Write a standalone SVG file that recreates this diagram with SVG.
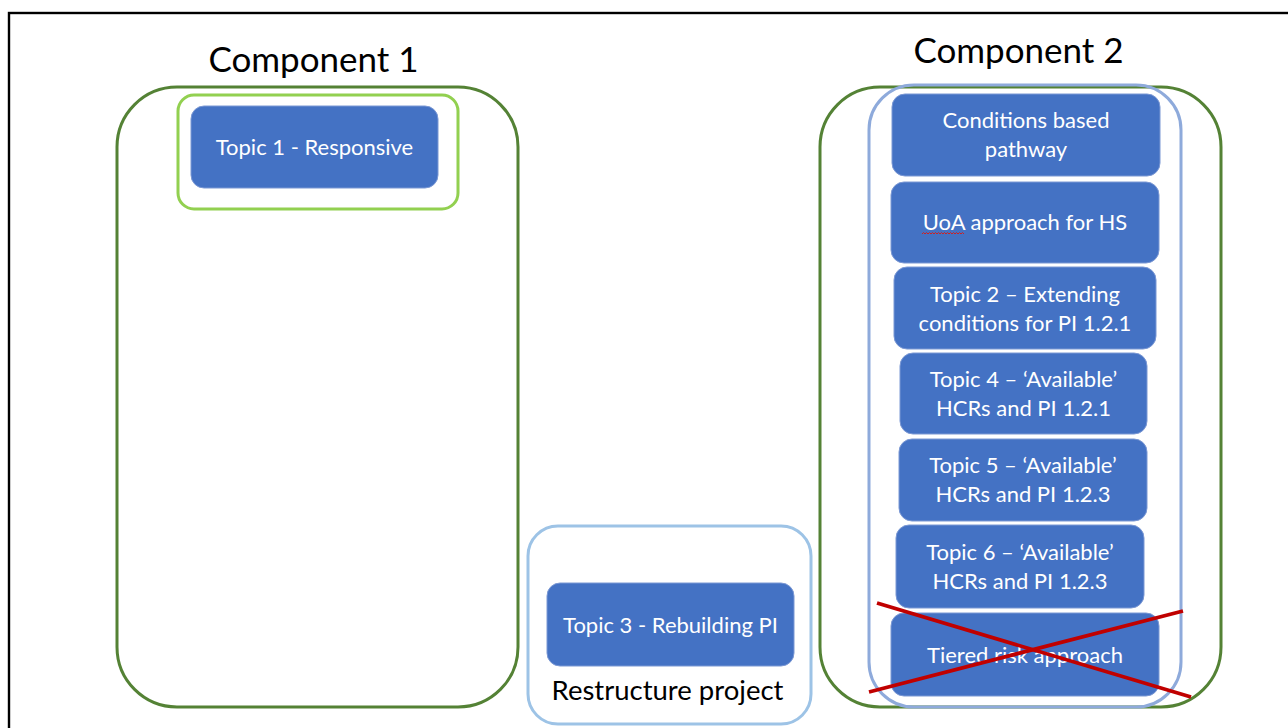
<svg xmlns="http://www.w3.org/2000/svg" width="1288" height="728" viewBox="0 0 1288 728">
  <style>
    .frame { fill: none; stroke: #000000; stroke-width: 2.4; }
    .component { fill: #ffffff; stroke: #548235; stroke-width: 3; }
    .scope-green { fill: none; stroke: #92d050; stroke-width: 3; }
    .scope-blue { fill: none; stroke: #8eaadb; stroke-width: 3; }
    .scope-sky { fill: #ffffff; stroke: #9dc3e6; stroke-width: 3; }
    .topic { fill: #4472c4; stroke: #7b98d4; stroke-width: 1; }
    .topic-text { font-family: Lato, "Liberation Sans", sans-serif; font-size: 22px; fill: #ffffff; text-anchor: middle; }
    .title { font-family: Lato, "Liberation Sans", sans-serif; font-size: 35px; fill: #000000; text-anchor: middle; }
    .caption { font-family: Lato, "Liberation Sans", sans-serif; font-size: 27.5px; fill: #000000; text-anchor: middle; }
    .strike { stroke: #c00000; stroke-width: 3.8; stroke-linecap: butt; }
    .squiggle { fill: none; stroke: #d02020; stroke-width: 1; }
  </style>

  <rect width="1288" height="728" fill="#ffffff"/>
  <!-- slide frame, runs off the right and bottom edges -->
  <rect class="frame" x="9" y="13" width="1300" height="740"/>

  <!-- Component 1 -->
  <g id="component-1">
    <text class="title" x="313.5" y="72">Component 1</text>
    <rect class="component" x="117" y="87" width="401" height="620" rx="60" ry="60"/>
    <rect class="scope-green" x="178" y="95" width="280" height="114" rx="16" ry="16"/>
  </g>
  <g id="topic-1">
    <rect class="topic" x="191" y="106" width="247" height="82" rx="13" ry="13"/>
    <text class="topic-text" x="314.5" y="155">Topic 1 - Responsive</text>
  </g>

  <!-- Restructure project -->
  <g id="restructure-project">
    <rect class="scope-sky" x="528" y="526" width="283" height="198" rx="30" ry="30"/>
    <text class="caption" x="667.5" y="700">Restructure project</text>
  </g>
  <g id="topic-3">
    <rect class="topic" x="547" y="583" width="247" height="83" rx="13" ry="13"/>
    <text class="topic-text" x="670.5" y="633">Topic 3 - Rebuilding PI</text>
  </g>

  <!-- Component 2 -->
  <g id="component-2">
    <text class="title" x="1018.5" y="63">Component 2</text>
    <rect class="component" x="820" y="87" width="401" height="620" rx="60" ry="60"/>
    <rect class="scope-blue" x="869" y="85" width="312" height="622" rx="45" ry="45"/>
  </g>
  <g id="conditions-pathway">
    <rect class="topic" x="892" y="94" width="268" height="82" rx="13" ry="13"/>
    <text class="topic-text" x="1026" y="128">Conditions based</text>
    <text class="topic-text" x="1026" y="157">pathway</text>
  </g>
  <g id="uoa-approach">
    <rect class="topic" x="891" y="182" width="268" height="81" rx="13" ry="13"/>
    <text class="topic-text" x="1025" y="230">UoA approach for HS</text>
    <path class="squiggle" d="M922 234 l1.5 -1.5 l1.5 1.5 l1.5 -1.5 l1.5 1.5 l1.5 -1.5 l1.5 1.5 l1.5 -1.5 l1.5 1.5 l1.5 -1.5 l1.5 1.5 l1.5 -1.5 l1.5 1.5 l1.5 -1.5 l1.5 1.5 l1.5 -1.5 l1.5 1.5 l1.5 -1.5 l1.5 1.5 l1.5 -1.5 l1.5 1.5 l1.5 -1.5 l1.5 1.5 l1.5 -1.5 l1.5 1.5 l1.5 -1.5 l1.5 1.5 l1.5 -1.5 l1.5 1.5"/>
  </g>
  <g id="topic-2">
    <rect class="topic" x="894" y="267" width="262" height="82" rx="13" ry="13"/>
    <text class="topic-text" x="1025" y="302">Topic 2 – Extending</text>
    <text class="topic-text" x="1025" y="331">conditions for PI 1.2.1</text>
  </g>
  <g id="topic-4">
    <rect class="topic" x="900" y="353" width="247" height="81" rx="13" ry="13"/>
    <text class="topic-text" x="1023.5" y="387">Topic 4 – ‘Available’</text>
    <text class="topic-text" x="1023.5" y="416">HCRs and PI 1.2.1</text>
  </g>
  <g id="topic-5">
    <rect class="topic" x="899" y="439" width="248" height="82" rx="13" ry="13"/>
    <text class="topic-text" x="1023" y="473">Topic 5 – ‘Available’</text>
    <text class="topic-text" x="1023" y="502">HCRs and PI 1.2.3</text>
  </g>
  <g id="topic-6">
    <rect class="topic" x="896" y="525" width="248" height="83" rx="13" ry="13"/>
    <text class="topic-text" x="1020" y="560">Topic 6 – ‘Available’</text>
    <text class="topic-text" x="1020" y="589">HCRs and PI 1.2.3</text>
  </g>
  <g id="tiered-risk">
    <rect class="topic" x="891" y="613" width="268" height="83" rx="13" ry="13"/>
    <text class="topic-text" x="1025" y="663">Tiered risk approach</text>
  </g>

  <!-- cross-out over the tiered risk item -->
  <g id="connectors">
    <line class="strike" x1="877" y1="603" x2="1191" y2="697"/>
    <line class="strike" x1="869" y1="692" x2="1183" y2="611"/>
  </g>
</svg>
